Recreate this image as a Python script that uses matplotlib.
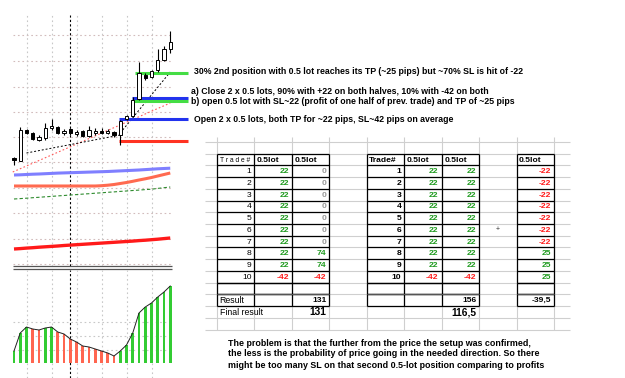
import numpy as np
import matplotlib
matplotlib.use("Agg")
import matplotlib.pyplot as plt

plt.rcParams['font.family'] = ['Liberation Sans', 'DejaVu Sans']

# candles, price in chart units
opens  = [142, 139, 170, 167, 160, 162, 172, 173, 167, 171, 166, 169, 164,
          167, 169, 167, 168, 165, 181, 184, 201, 225, 223, 230, 240, 251]
highs  = [143, 173, 171, 168, 165, 177, 181, 174, 171, 172, 170, 170, 174,
          172, 172, 171, 169, 180, 185, 203, 238, 227, 230, 251, 254, 269]
lows   = [135, 139, 166, 160, 159, 160, 170, 166, 165, 165, 164, 163, 163,
          165, 166, 166, 163, 155, 180, 183, 200, 220, 222, 228, 239, 247]
closes = [140, 170, 167, 161, 163, 172, 174, 167, 169, 167, 168, 164, 170,
          169, 167, 169, 165, 179, 184, 200, 227, 222, 229, 240, 251, 258]

# moving averages
ma_blue   = [125.0, 125.2, 125.5, 125.8, 126.0, 126.3, 126.6, 126.9, 127.1,
             127.3, 127.5, 127.7, 127.9, 128.1, 128.3, 128.5, 128.8, 129.1,
             129.4, 129.7, 130.0, 130.4, 130.8, 131.2, 131.5, 131.8]
ma_orange = [114.0, 114.0, 114.0, 114.0, 114.0, 114.0, 114.0, 114.0, 114.0,
             114.0, 114.0, 114.0, 114.0, 114.0, 114.3, 114.8, 115.5, 116.5,
             117.5, 118.7, 120.0, 121.2, 122.5, 124.0, 125.5, 127.0]
ma_green  = [101.0, 101.4, 101.8, 102.3, 102.7, 103.2, 103.6, 104.1, 104.5,
             105.0, 105.4, 105.9, 106.3, 106.8, 107.2, 107.7, 108.1, 108.6,
             109.0, 109.5, 109.9, 110.4, 110.8, 111.6, 112.3, 113.0]
ma_red    = [51.0, 51.4, 51.9, 52.3, 52.8, 53.2, 53.6, 54.0, 54.5, 54.9,
             55.3, 55.7, 56.1, 56.5, 56.9, 57.3, 57.7, 58.1, 58.5, 58.9,
             59.4, 59.8, 60.3, 60.8, 61.4, 62.0]

# oscillator histogram
osc = [12, 30, 36, 34, 33, 35, 36, 31, 29, 24, 21, 17, 16, 14, 12, 10, 7,
       12, 18, 30, 50, 56, 60, 66, 71, 77]

# trade levels: (price, start bar, colour)
levels = [(227, 19.4, '#44dd44'), (202, 18.9, '#2233ee'),
          (199, 18.9, '#44dd44'), (181, 16.8, '#2233ee'),
          (159, 16.8, '#ff3322')]

notes = ["30% 2nd position with 0.5 lot reaches its TP (~25 pips) but ~70% SL is hit of -22",
         "a) Close 2 x 0.5 lots, 90% with +22 on both halves, 10% with -42 on both",
         "b) open 0.5 lot with SL~22 (profit of one half of prev. trade) and TP of ~25 pips",
         "Open 2 x 0.5 lots, both TP for ~22 pips, SL~42 pips on average"]
note_pos = [(194, 72), (191, 91), (191, 101), (194, 120)]

footer = ["The problem is that the further from the price the setup was confirmed,",
          "the less is the probability of price going in the needed direction. So there",
          "might be too many SL on that second 0.5-lot position comparing to profits"]

trade_no = list(range(1, 11))
t1_a = [22, 22, 22, 22, 22, 22, 22, 22, 22, -42]
t1_b = [0, 0, 0, 0, 0, 0, 0, 74, 74, -42]
t2_a = [22, 22, 22, 22, 22, 22, 22, 22, 22, -42]
t2_b = [22, 22, 22, 22, 22, 22, 22, 22, 22, -42]
t3 = [-22, -22, -22, -22, -22, -22, -22, 25, 25, 25]
results = ["131", "156", "-39,5"]
finals = ["131", "116,5"]

GREEN = '#1f9a1f'
RED = '#ff1a1a'


def val_color(v):
    if v > 0:
        return GREEN
    if v < 0:
        return RED
    return '#999999'


fig = plt.figure(figsize=(6.25, 3.78), dpi=100)
fig.patch.set_facecolor('white')

# overlay in pixel coords for the spreadsheet and notes
ax = fig.add_axes([0, 0, 1, 1])
ax.set_xlim(0, 625)
ax.set_ylim(378, 0)
ax.axis('off')

# ---- price panel ----
axp = fig.add_axes([0, 1 - 266 / 378, 190 / 625, 266 / 378])
axp.set_xlim(-2.24, 28.16)
axp.set_ylim(34, 300)
axp.axis('off')
axp.patch.set_alpha(0)

n = len(opens)
x = np.arange(n)
axp.hlines([265, 239, 213, 188, 163, 138, 112, 87, 61, 36], -0.16, 25.3,
           colors='#d2bcbc', linestyles=(0, (1.5, 2.5)), lw=0.8)
axp.vlines([2, 6, 10, 14, 18, 22], 34, 285, colors='#c8c8c8',
           linestyles=(0, (1.5, 2.5)), lw=0.8)
axp.vlines([9], 34, 285, colors='black', linestyles=(0, (2, 2)), lw=0.8)

axp.plot(x, ma_blue, color='#7f7fff', lw=2.2, solid_capstyle='butt')
axp.plot(x, ma_orange, color='#ff6a50', lw=2.2, solid_capstyle='butt')
axp.plot(x, ma_green, color='#2e8b2e', lw=0.8, ls=(0, (3, 2)))
axp.plot(x, ma_red, color='#ff1a1a', lw=2.4, solid_capstyle='butt')

axp.plot([-0.2, 25], [128, 197], color='#ff5a5a', lw=0.8, ls=(0, (1.5, 2)))
axp.plot([2, 17], [147, 165], color='black', lw=0.7, ls=(0, (2, 2)))
axp.plot([17, 25], [167, 228], color='black', lw=0.7, ls=(0, (2, 2)))

for price, start, col in levels:
    axp.hlines(price, start, 27.8, colors=col, lw=2.2)

for i in range(n):
    o, h, l, c = opens[i], highs[i], lows[i], closes[i]
    axp.vlines(i, l, h, colors='black', lw=0.8, zorder=3)
    up = c >= o
    lo, hi = min(o, c), max(o, c)
    axp.bar(i, max(hi - lo, 1.2), bottom=lo, width=0.55,
            color='white' if up else 'black', edgecolor='black', lw=0.7,
            zorder=4)

# ---- oscillator panel ----
axo = fig.add_axes([0, 0, 190 / 625, 108 / 378])
axo.set_xlim(-2.24, 28.16)
axo.set_ylim(-15, 93)
axo.axis('off')
axo.patch.set_alpha(0)
axo.hlines([41, 27, 13], -0.16, 25.3, colors='#c8c8c8',
           linestyles=(0, (1.5, 2.5)), lw=0.8)
axo.vlines([2, 6, 10, 14, 18, 22], -15, 93, colors='#c8c8c8',
           linestyles=(0, (1.5, 2.5)), lw=0.8)
axo.vlines([9], -15, 93, colors='black', linestyles=(0, (2, 2)), lw=0.8)
bar_cols = ['#33cc33' if i == 0 or osc[i] >= osc[i - 1] else '#ff6650'
            for i in range(n)]
axo.bar(x, osc, width=0.42, color=bar_cols, zorder=2)
axo.plot(x, osc, color='#222222', lw=0.7, zorder=3)

# panel separator
ax.hlines([266, 268.5], 13, 172, colors='#555555', lw=0.9)

# ---- spreadsheet ----
cw, rh = 37.44, 11.72
cx = [217 + cw * k for k in range(10)]
ry = [142 + rh * k for k in range(17)]

ax.hlines(ry, 205, 570, colors='#cfcfcf', lw=0.8, zorder=1)
ax.vlines(cx, 137, ry[-1], colors='#cfcfcf', lw=0.8, zorder=1)

fs = 6.1


def box_grid(c0, ncol, r0, r1):
    ax.hlines(ry[r0:r1 + 1], cx[c0], cx[c0 + ncol], colors='black', lw=0.9,
              zorder=2)
    ax.vlines(cx[c0:c0 + ncol + 1], ry[r0], ry[r1], colors='black', lw=0.9,
              zorder=2)


def cell(col, row, s, color='black', bold=True, left=False, size=fs):
    yc = ry[row] + rh / 2 + 0.5
    if left:
        ax.text(cx[col] + 2.5, yc, s, ha='left', va='center', color=color,
                fontsize=size, fontweight='bold' if bold else 'normal')
    else:
        ax.text(cx[col + 1] - 3, yc, s, ha='right', va='center', color=color,
                fontsize=size, fontweight='bold' if bold else 'normal')


# table 1
box_grid(0, 3, 1, 12)
box_grid(0, 3, 12, 13)
box_grid(0, 3, 13, 14)
ax.hlines(ry[13] - 0.8, cx[0], cx[3], colors='#555555', lw=0.8)
ax.text(cx[0] + 2.5, ry[1] + rh / 2 + 0.5, "T r a d e #", ha='left',
        va='center', fontsize=fs - 1.3)
cell(1, 1, "0.5lot", left=True)
cell(2, 1, "0.5lot", left=True)
for k in range(10):
    cell(0, k + 2, str(trade_no[k]), bold=False)
    cell(1, k + 2, str(t1_a[k]), color=val_color(t1_a[k]))
    cell(2, k + 2, str(t1_b[k]), color=val_color(t1_b[k]))
cell(0, 13, "Result", bold=False, left=True, size=fs + 0.2)
cell(2, 13, results[0])
cell(0, 14, "Final result", bold=False, left=True, size=fs + 0.2)
cell(2, 14, finals[0], size=fs + 1.2)

# table 2
box_grid(4, 3, 1, 12)
box_grid(4, 3, 12, 13)
box_grid(4, 3, 13, 14)
ax.hlines(ry[13] - 0.8, cx[4], cx[7], colors='#555555', lw=0.8)
cell(4, 1, "Trade#", left=True)
cell(5, 1, "0.5lot", left=True)
cell(6, 1, "0.5lot", left=True)
for k in range(10):
    cell(4, k + 2, str(trade_no[k]))
    cell(5, k + 2, str(t2_a[k]), color=val_color(t2_a[k]))
    cell(6, k + 2, str(t2_b[k]), color=val_color(t2_b[k]))
cell(6, 13, results[1])
cell(6, 14, finals[1], size=fs + 1.2)

# table 3
box_grid(8, 1, 1, 12)
box_grid(8, 1, 12, 13)
box_grid(8, 1, 13, 14)
ax.hlines(ry[13] - 0.8, cx[8], cx[9], colors='#555555', lw=0.8)
cell(8, 1, "0.5lot", left=True)
for k in range(10):
    cell(8, k + 2, str(t3[k]), color=val_color(t3[k]))
cell(8, 13, results[2])

ax.text(498, 229, "+", ha='center', va='center', fontsize=5, color='#333333')

# notes
for s, (px, py) in zip(notes, note_pos):
    ax.text(px, py, s, ha='left', va='center', fontsize=6.35,
            fontweight='bold')
for k, s in enumerate(footer):
    ax.text(228, 343 + 11 * k, s, ha='left', va='center', fontsize=6.4,
            fontweight='bold')

fig.savefig('out.png', dpi=100, facecolor='white')
